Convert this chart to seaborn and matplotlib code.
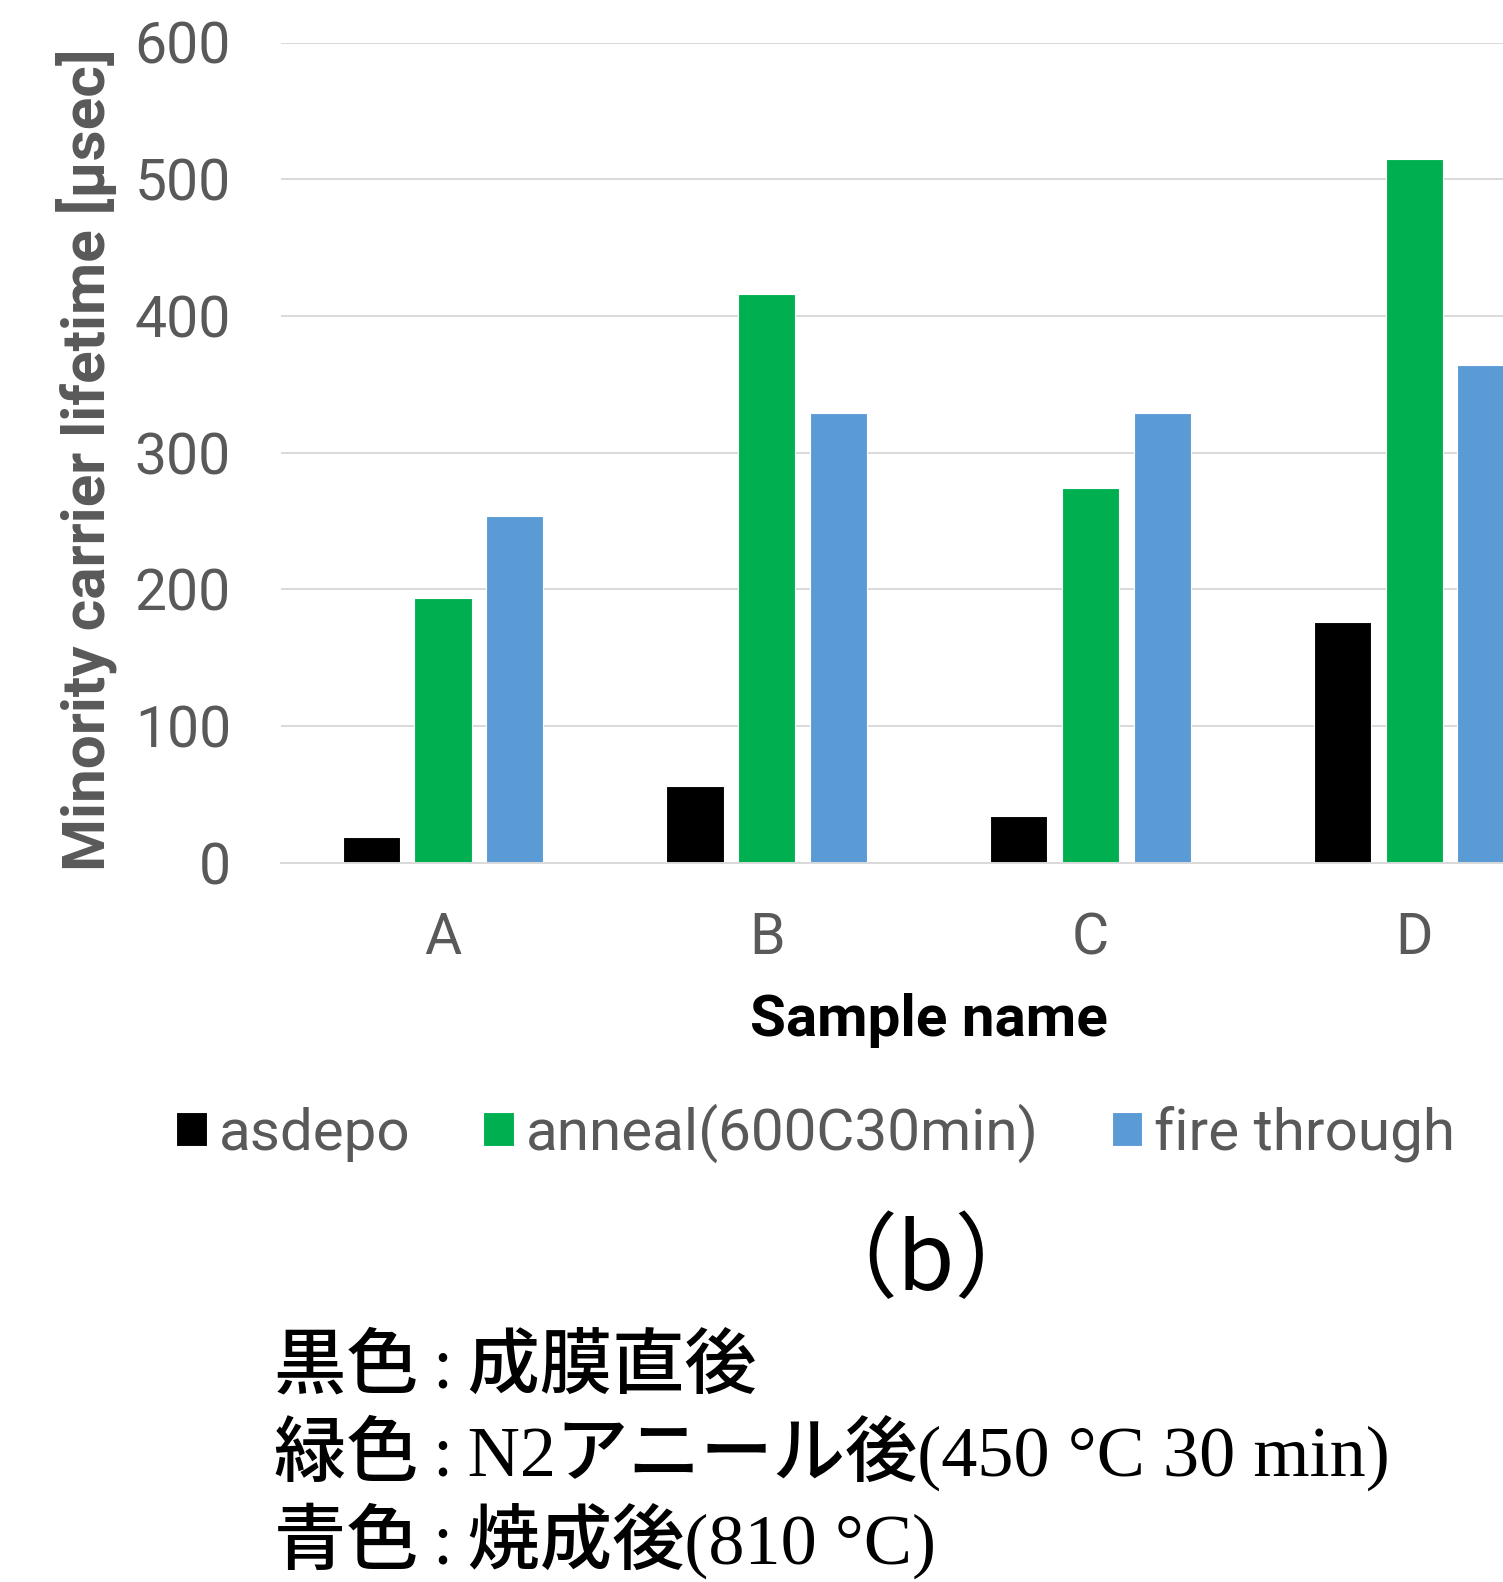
import matplotlib
matplotlib.use("Agg")
import matplotlib.pyplot as plt
import seaborn as sns
import pandas as pd

# Minority carrier lifetime [usec] per sample and process step
samples = ["A", "B", "C", "D"]
conditions = ["asdepo", "anneal(600C30min)", "fire through"]
asdepo = [19, 56, 34, 176]
anneal = [194, 416, 274, 515]
fire_through = [254, 329, 329, 364]
y_ticks = [0, 100, 200, 300, 400, 500, 600]

colors = ["#000000", "#00B050", "#5B9BD5"]
notes = [
    "黒色\u2009:\u2009成膜直後",
    "緑色\u2009:\u2009N2アニール後(450 °C 30 min)",
    "青色\u2009:\u2009焼成後(810 °C)",
]

df = pd.DataFrame({
    "sample": samples * 3,
    "condition": [c for c in conditions for _ in samples],
    "lifetime": asdepo + anneal + fire_through,
})

sns.set_theme(style="white")
plt.rcParams["font.family"] = ["Roboto", "DejaVu Sans"]

W, H = 1503, 1582
fig = plt.figure(figsize=(W / 100, H / 100), dpi=100)

# plot area (in pixels): left 281, top 42.5, bottom 862.8, four categories 323.8 px apart
left, top, bottom = 281, 42.5, 862.8
width_px = 4 * 323.8
ax = fig.add_axes([left / W, (H - bottom) / H, width_px / W, (bottom - top) / H])

sns.barplot(
    data=df, x="sample", y="lifetime", hue="condition",
    hue_order=conditions, order=samples, palette=colors, saturation=1,
    width=0.664, gap=0.2, edgecolor="white", linewidth=0.8,
    ax=ax,
)

ax.set_ylim(0, 600)
ax.set_xlim(-0.5, 3.5)
ax.set_yticks(y_ticks)
ax.yaxis.grid(True, color="#D9D9D9", linewidth=1.4)
ax.set_axisbelow(True)
for s in ["left", "right", "top"]:
    ax.spines[s].set_visible(False)
ax.spines["bottom"].set_color("#D9D9D9")
ax.spines["bottom"].set_linewidth(1.4)

grey = "#595959"
ax.tick_params(axis="both", length=0, labelsize=41, labelcolor=grey)
ax.tick_params(axis="y", pad=36)
ax.tick_params(axis="x", pad=35)

ax.set_xlabel("Sample name", fontsize=42, fontweight="bold", color="black")
ax.xaxis.label.set_va("center")
ax.xaxis.set_label_coords(0.5, (bottom - 1021) / (bottom - top))

ax.set_ylabel("Minority carrier lifetime [μsec]", fontsize=43.5,
              fontweight="bold", color=grey)
ax.yaxis.label.set_va("center")
ax.yaxis.set_label_coords((86 - left) / width_px, (bottom - 460) / (bottom - top))

sns.move_legend(
    ax, loc="center left",
    bbox_to_anchor=(176 / W, (H - 1133) / H), bbox_transform=fig.transFigure,
    ncol=3, frameon=False, title=None, fontsize=42, labelcolor=grey,
    handlelength=0.53, handleheight=0.53, handletextpad=0.2,
    columnspacing=1.25, borderpad=0, borderaxespad=0,
)

fig.text(926 / W, (H - 1263) / H, "（b）", fontsize=67, color="black",
         ha="center", va="center", family=["Noto Sans CJK JP", "DejaVu Sans"])

baselines = [1387, 1476, 1564]
for line, yb in zip(notes, baselines):
    fig.text(274 / W, (H - yb) / H, line, fontsize=52, color="black",
             ha="left", va="baseline", fontweight=500,
             family=["Liberation Serif", "Noto Sans CJK JP"])

fig.savefig("out.png", dpi=100, facecolor="white")
